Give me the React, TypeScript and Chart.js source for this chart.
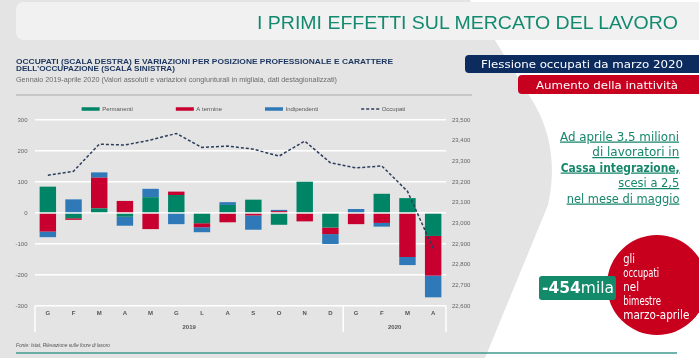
import React, { useEffect, useRef } from 'react';
import { Chart, registerables } from 'chart.js';

Chart.register(...registerables);

const months = ['G', 'F', 'M', 'A', 'M', 'G', 'L', 'A', 'S', 'O', 'N', 'D', 'G', 'F', 'M', 'A'];
const yearGroups = [
  { label: '2019', from: 0, to: 11 },
  { label: '2020', from: 12, to: 15 },
];
const permanenti = [85, -17, 15, -12, 51, 58, -33, 26, 43, -38, 101, -47, 3, 62, 48, -74];
const aTermine = [-60, -5, 99, 39, -52, 11, -13, -30, -8, 6, -27, -21, -36, -32, -142, -128];
const indipendenti = [-18, 44, 17, -29, 27, -36, -16, 9, -46, 4, 0, -32, 10, -12, -26, -70];
const occupati = [23233, 23252, 23383, 23379, 23403, 23435, 23367, 23374, 23359, 23325, 23398, 23293, 23268, 23278, 23155, 22879];
const leftAxis = { min: -300, max: 300, step: 100 };
const rightAxis = { min: 22600, max: 23500, step: 100 };

const GREEN = '#008466';
const RED = '#c8002f';
const BLUE = '#2f79b8';
const NAVY = '#2c3d5b';
const FONT = '"Liberation Sans", Arial, sans-serif';

const customLegend = {
  id: 'customLegend',
  afterDraw(chart: any, _args: any, opts: any) {
    const ctx = chart.ctx;
    ctx.save();
    ctx.font = `6px ${FONT}`;
    ctx.textBaseline = 'middle';
    const sw = 18;
    const gap = 2.5;
    const pad = 43;
    const items = chart.data.datasets.map((ds: any) => ({
      label: ds.label,
      isLine: ds.type === 'line',
      color: ds.type === 'line' ? ds.borderColor : ds.backgroundColor,
      w: ctx.measureText(ds.label).width,
    }));
    const total = items.reduce((s: number, it: any) => s + sw + gap + it.w, 0) + pad * (items.length - 1);
    let x = opts.centerX - total / 2;
    const y = opts.y;
    items.forEach((it: any) => {
      if (it.isLine) {
        ctx.strokeStyle = it.color;
        ctx.lineWidth = 1.5;
        ctx.setLineDash([3, 2]);
        ctx.beginPath();
        ctx.moveTo(x, y);
        ctx.lineTo(x + sw, y);
        ctx.stroke();
        ctx.setLineDash([]);
      } else {
        ctx.fillStyle = it.color;
        ctx.fillRect(x, y - 1.75, sw, 3.5);
      }
      ctx.fillStyle = '#555';
      ctx.fillText(it.label, x + sw + gap, y);
      x += sw + gap + it.w + pad;
    });
    ctx.restore();
  },
};

const yearPlugin = {
  id: 'yearGroups',
  afterDraw(chart: any) {
    const { ctx, chartArea, scales } = chart;
    const xs = scales.x;
    const half = (xs.getPixelForValue(1) - xs.getPixelForValue(0)) / 2;
    ctx.save();
    ctx.strokeStyle = '#ffffff';
    ctx.lineWidth = 1.5;
    const bounds = [chartArea.left];
    yearGroups.forEach((g) => bounds.push(xs.getPixelForValue(g.to) + half));
    bounds.forEach((bx) => {
      ctx.beginPath();
      ctx.moveTo(bx, chartArea.bottom);
      ctx.lineTo(bx, chartArea.bottom + 26);
      ctx.stroke();
    });
    ctx.fillStyle = '#555';
    ctx.font = `bold 6px ${FONT}`;
    ctx.textAlign = 'center';
    ctx.textBaseline = 'middle';
    yearGroups.forEach((g) => {
      const cx = (xs.getPixelForValue(g.from) + xs.getPixelForValue(g.to)) / 2;
      ctx.fillText(g.label, cx, chartArea.bottom + 21);
    });
    ctx.restore();
  },
};

export default function App() {
  const canvasRef = useRef<HTMLCanvasElement>(null);

  useEffect(() => {
    const chart = new Chart(canvasRef.current as HTMLCanvasElement, {
      type: 'bar',
      data: {
        labels: months,
        datasets: [
          { type: 'bar', label: 'Permanenti', data: permanenti, backgroundColor: GREEN, yAxisID: 'y', order: 1, categoryPercentage: 1, barPercentage: 0.64 },
          { type: 'bar', label: 'A termine', data: aTermine, backgroundColor: RED, yAxisID: 'y', order: 1, categoryPercentage: 1, barPercentage: 0.64 },
          { type: 'bar', label: 'Indipendenti', data: indipendenti, backgroundColor: BLUE, yAxisID: 'y', order: 1, categoryPercentage: 1, barPercentage: 0.64 },
          { type: 'line', label: 'Occupati', data: occupati, borderColor: NAVY, backgroundColor: NAVY, borderWidth: 1.5, borderDash: [3, 2], pointRadius: 0, fill: false, tension: 0, yAxisID: 'y1', order: 0 },
        ] as any,
      },
      options: {
        responsive: false,
        animation: false,
        maintainAspectRatio: false,
        layout: { padding: { top: 25, left: 0, right: 0, bottom: 0 } },
        plugins: {
          legend: { display: false },
          tooltip: { enabled: false },
          customLegend: { centerX: 243.5, y: 14 },
        } as any,
        scales: {
          x: {
            stacked: true,
            grid: { display: false, drawTicks: false },
            border: { display: false },
            ticks: { color: '#555', font: { family: FONT, size: 6, weight: 'bold' }, padding: 4, maxRotation: 0, autoSkip: false },
            afterFit: (s: any) => { s.height = 34; },
          },
          y: {
            stacked: true,
            position: 'left',
            min: leftAxis.min,
            max: leftAxis.max,
            grid: { color: '#ffffff', lineWidth: 1.5, drawTicks: false },
            border: { display: false },
            ticks: { stepSize: leftAxis.step, color: '#666', font: { family: FONT, size: 6 }, padding: 7.5 },
            afterFit: (s: any) => { s.width = 35; },
          },
          y1: {
            position: 'right',
            min: rightAxis.min,
            max: rightAxis.max,
            grid: { display: false, drawTicks: false },
            border: { display: false },
            ticks: {
              stepSize: rightAxis.step,
              color: '#666',
              font: { family: FONT, size: 6 },
              padding: 6,
              callback: (v: any) => Number(v).toLocaleString('en-US'),
            },
            afterFit: (s: any) => { s.width = 41; },
          },
        } as any,
      },
      plugins: [customLegend, yearPlugin],
    });
    return () => chart.destroy();
  }, []);

  const cond = '"DejaVu Sans Condensed", "DejaVu Sans", sans-serif';
  const greenText = '#17876b';

  return (
    <div style={{ position: 'fixed', left: 0, top: 0, width: 699, height: 358, background: '#e4e4e4', overflow: 'hidden', fontFamily: FONT }}>
      <svg width={699} height={358} style={{ position: 'absolute', left: 0, top: 0 }}>
        <path d="M470 0 L535 105 Q560 150 548 205 L485 358 L699 358 L699 0 Z" fill="#ffffff" />
        <rect x={16} y={2} width={700} height={38} rx={8} fill="#f1f1f1" />
        <line x1={16} y1={95} x2={472} y2={95} stroke="#a9a9a9" strokeWidth={1} />
        <line x1={16} y1={353} x2={677} y2={353} stroke="#3f9a8f" strokeWidth={1.5} />
      </svg>
      <div style={{ position: 'absolute', left: 0, top: 95, width: 487, height: 245 }}>
        <canvas ref={canvasRef} width={487} height={245} style={{ width: 487, height: 245, display: 'block' }} />
      </div>
      <svg width={699} height={358} style={{ position: 'absolute', left: 0, top: 0, pointerEvents: 'none' }}>
        <text x={257} y={29} fontSize={18} fill="#138a6f" fontFamily={FONT} textLength={421} lengthAdjust="spacingAndGlyphs">I PRIMI EFFETTI SUL MERCATO DEL LAVORO</text>
        <text x={16} y={63.5} fontSize={8} fontWeight="bold" fill="#1c355e" fontFamily={FONT} textLength={377} lengthAdjust="spacingAndGlyphs">OCCUPATI (SCALA DESTRA) E VARIAZIONI PER POSIZIONE PROFESSIONALE E CARATTERE</text>
        <text x={16} y={70.5} fontSize={8} fontWeight="bold" fill="#1c355e" fontFamily={FONT} textLength={159} lengthAdjust="spacingAndGlyphs">DELL’OCCUPAZIONE (SCALA SINISTRA)</text>
        <text x={16} y={81.5} fontSize={7} fill="#6a6a6a" fontFamily={FONT} textLength={321} lengthAdjust="spacingAndGlyphs">Gennaio 2019-aprile 2020 (Valori assoluti e variazioni congiunturali in migliaia, dati destagionalizzati)</text>

        <rect x={465} y={55} width={250} height={18} rx={4} fill="#0c2b5f" />
        <text x={481} y={67.8} fontSize={11} fill="#ffffff" fontFamily={cond} textLength={202} lengthAdjust="spacingAndGlyphs">Flessione occupati da marzo 2020</text>
        <rect x={518} y={75} width={200} height={19} rx={4} fill="#c8001f" />
        <text x={536} y={89} fontSize={11} fill="#ffffff" fontFamily={cond} textLength={142} lengthAdjust="spacingAndGlyphs">Aumento della inattività</text>

        <g fill={greenText} fontFamily={cond} fontSize={12.5} textDecoration="underline" style={{ textDecoration: 'underline' }}>
          <text x={560} y={140.5} textLength={119} lengthAdjust="spacingAndGlyphs">Ad aprile 3,5 milioni</text>
          <text x={592.3} y={156} textLength={87} lengthAdjust="spacingAndGlyphs">di lavoratori  in</text>
          <text x={560.7} y={171.5} fontWeight="bold" textLength={119} lengthAdjust="spacingAndGlyphs">Cassa integrazione,</text>
          <text x={618.3} y={187} textLength={61} lengthAdjust="spacingAndGlyphs">scesi a 2,5</text>
          <text x={566.7} y={202.5} textLength={112.7} lengthAdjust="spacingAndGlyphs">nel mese di maggio</text>
        </g>

        <circle cx={657} cy={285} r={50} fill="#c8001e" />
        <g fill="#ffffff" fontFamily={cond} fontSize={12}>
          <text x={623.3} y={263} textLength={11.7} lengthAdjust="spacingAndGlyphs">gli</text>
          <text x={623.3} y={277} textLength={35.7} lengthAdjust="spacingAndGlyphs">occupati</text>
          <text x={623.3} y={291} textLength={15.7} lengthAdjust="spacingAndGlyphs">nel</text>
          <text x={623.3} y={305} textLength={37.7} lengthAdjust="spacingAndGlyphs">bimestre</text>
          <text x={623.3} y={319} textLength={66} lengthAdjust="spacingAndGlyphs">marzo-aprile</text>
        </g>
        <rect x={539} y={276} width={77} height={24} rx={3} fill="#138a6a" />
        <text x={542} y={293.3} fontSize={15} fill="#ffffff" fontFamily={cond} textLength={72} lengthAdjust="spacingAndGlyphs">
          <tspan fontWeight="bold">-454</tspan><tspan>mila</tspan>
        </text>

        <text x={16} y={347} fontSize={6} fontStyle="italic" fill="#555" fontFamily={FONT} textLength={94} lengthAdjust="spacingAndGlyphs">Fonte: Istat, Rilevazione sulle forze di lavoro</text>
      </svg>
    </div>
  );
}
